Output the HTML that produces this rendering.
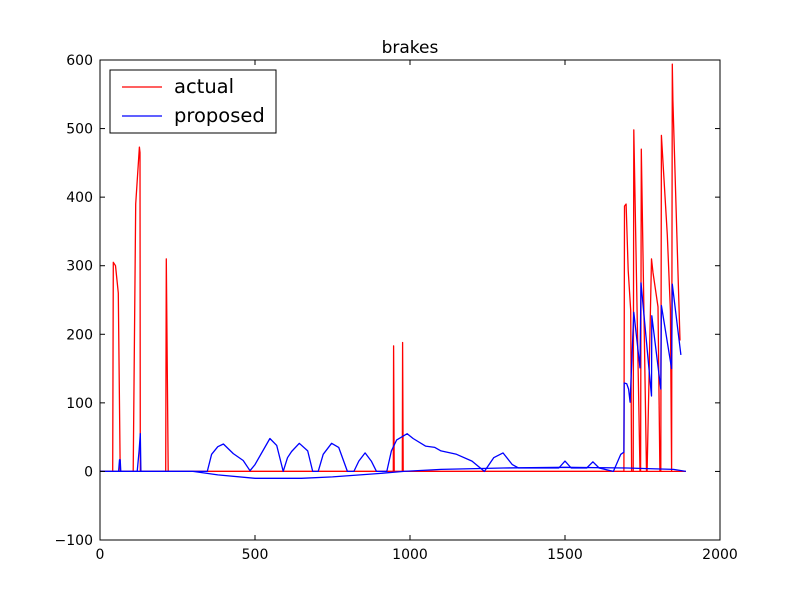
<!DOCTYPE html>
<html><head><meta charset="utf-8"><style>
body{margin:0;background:#fff}
svg text{font-family:"DejaVu Sans","Liberation Sans",sans-serif;fill:#000}
</style></head><body>
<svg id="chart" width="800" height="600" xmlns="http://www.w3.org/2000/svg">
<rect width="800" height="600" fill="#fff"/>
<text x="410" y="53" font-size="17" text-anchor="middle">brakes</text>
<g id="plot"></g>
<g id="axes"></g>
<g>
<rect x="110" y="70" width="166" height="63" fill="#fff" stroke="#000" stroke-width="1"/>
<line x1="122" y1="87" x2="162" y2="87" stroke="#f00" stroke-width="1.2"/>
<text x="174" y="93" font-size="19.5">actual</text>
<line x1="122" y1="116" x2="162" y2="116" stroke="#00f" stroke-width="1.2"/>
<text x="174" y="122" font-size="19.5">proposed</text>
</g>
</svg>
<script>
const xTicks=[0,500,1000,1500,2000];
const yTicks=[-100,0,100,200,300,400,500,600];
const actualX=[0,41,43,50,59,65,107,115,127,129,130,212,214,220,946,947,949,975,976,978,1690,1692,1697,1704,1712,1715,1720,1722,1742,1744,1746,1763,1765,1779,1784,1800,1806,1809,1811,1830,1840,1844,1846,1848,1871];
const actualY=[0,0,305,300,260,0,0,390,473,465,0,0,310,0,0,183,0,0,188,0,0,387,390,293,235,0,0,498,0,0,470,0,0,310,290,240,0,0,490,345,235,0,594,541,191];
const actualBaseX=[0,1890];
const actualBaseY=[0,0];
const propX=[0,60,63,65,67,120,126,130,132,346,360,380,398,430,462,484,500,548,570,591,605,618,643,670,686,704,720,747,770,798,819,835,855,875,892,925,940,957,991,1010,1050,1080,1100,1150,1200,1240,1270,1300,1330,1350,1480,1500,1520,1570,1590,1610,1656,1680,1690,1691,1699,1705,1710,1722,1742,1745,1779,1780,1809,1811,1844,1846,1874];
const propY=[0,0,17,17,0,0,30,55,0,0,25,36,40,26,16,1,10,48,38,0,20,29,41,30,0,0,25,41,35,0,0,15,27,15,0,0,30,46,55,48,37,35,30,25,15,0,20,27,10,5,5,15,5,5,14,5,0,25,28,129,128,120,101,232,151,275,110,227,120,242,150,273,170];
const propBaseX=[0,300,380,500,650,750,900,980,1100,1300,1500,1700,1850,1890];
const propBaseY=[0,0,-5,-10,-10,-8,-3,0,3,5,6,5,3,0];
const X0=100,X1=720,Y0=540,Y1=60;
const sx=v=>X0+(v-0)/(2000-0)*(X1-X0);
const sy=v=>Y0-(v+100)/(700)*(Y0-Y1);
const NS='http://www.w3.org/2000/svg';
const plot=document.getElementById('plot'),axes=document.getElementById('axes');
function line(xs,ys,color,name){
  const p=document.createElementNS(NS,'polyline');
  p.setAttribute('points',xs.map((x,i)=>sx(x).toFixed(1)+','+sy(ys[i]).toFixed(1)).join(' '));
  p.setAttribute('fill','none');p.setAttribute('stroke',color);p.setAttribute('stroke-width','1.3');
  p.setAttribute('stroke-linejoin','round');
  
  
  plot.appendChild(p);
}
line(actualBaseX,actualBaseY,'#f00','actual-baseline');
line(actualX,actualY,'#f00','actual-line');
line(propBaseX,propBaseY,'#00f','proposed-baseline');
line(propX,propY,'#00f','proposed-line');
const fr=document.createElementNS(NS,'rect');
fr.setAttribute('x',X0);fr.setAttribute('y',Y1);fr.setAttribute('width',X1-X0);fr.setAttribute('height',Y0-Y1);
fr.setAttribute('fill','none');fr.setAttribute('stroke','#000');fr.setAttribute('stroke-width','1');


axes.appendChild(fr);
function tk(x1,y1,x2,y2){const l=document.createElementNS(NS,'line');l.setAttribute('x1',x1);l.setAttribute('y1',y1);l.setAttribute('x2',x2);l.setAttribute('y2',y2);l.setAttribute('stroke','#000');


axes.appendChild(l);}
xTicks.forEach(v=>{const x=sx(v);tk(x,Y0,x,Y0-5);tk(x,Y1,x,Y1+5);
 const t=document.createElementNS(NS,'text');t.setAttribute('x',x);t.setAttribute('y',Y0+19);t.setAttribute('font-size','14');t.setAttribute('text-anchor','middle');t.textContent=v;
 
 
 axes.appendChild(t);});
yTicks.forEach(v=>{const y=sy(v);tk(X0,y,X0+5,y);tk(X1,y,X1-5,y);
 const t=document.createElementNS(NS,'text');t.setAttribute('x',X0-7);t.setAttribute('y',y+5);t.setAttribute('font-size','14');t.setAttribute('text-anchor','end');t.textContent=v<0?'\u2212'+(-v):v;
 
 
 axes.appendChild(t);});
</script>
</body></html>
